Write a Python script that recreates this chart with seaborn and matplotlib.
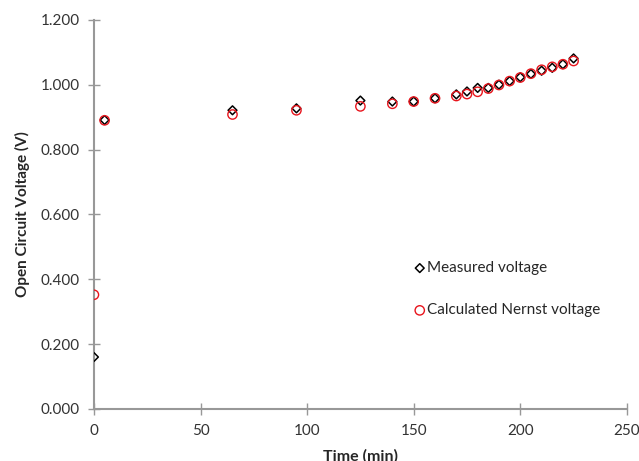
import matplotlib
matplotlib.use("Agg")
import matplotlib.pyplot as plt
import seaborn as sns
import pandas as pd

time_min = [0, 5, 65, 95, 125, 140, 150, 160, 170, 175, 180, 185, 190, 195, 200, 205, 210, 215, 220, 225]
measured = [0.160, 0.891, 0.921, 0.927, 0.951, 0.948, 0.948, 0.958, 0.970, 0.979, 0.990, 0.990, 1.000, 1.011, 1.023, 1.033, 1.043, 1.052, 1.063, 1.081]
calculated = [0.352, 0.890, 0.908, 0.921, 0.933, 0.941, 0.948, 0.958, 0.965, 0.971, 0.978, 0.988, 0.999, 1.011, 1.022, 1.034, 1.046, 1.055, 1.063, 1.073]
series_names = ["Measured voltage", "Calculated Nernst voltage"]
x_ticks = [0, 50, 100, 150, 200, 250]
y_ticks = [0.0, 0.2, 0.4, 0.6, 0.8, 1.0, 1.2]

sns.set_style("white")
plt.rcParams['font.family'] = ['Lato', 'DejaVu Sans']

fig = plt.figure(figsize=(6.39, 4.61), dpi=100)
ax = fig.add_axes([0.147, 0.113, 0.834, 0.844])

df = pd.DataFrame({"t": time_min, "m": measured, "c": calculated})
sns.scatterplot(data=df, x="t", y="m", ax=ax, marker="D", s=20,
                facecolors="none", edgecolors="black", linewidths=1.1,
                label=series_names[0], zorder=3)
sns.scatterplot(data=df, x="t", y="c", ax=ax, marker="o", s=45,
                facecolors="none", edgecolors="#e8141c", linewidths=1.0,
                label=series_names[1], zorder=4)

ax.set_xlim(0, 250)
ax.set_ylim(0, 1.2)
ax.set_xticks(x_ticks)
ax.set_yticks(y_ticks)
ax.set_yticklabels([f"{v:.3f}" for v in y_ticks])
ax.set_xticklabels([str(v) for v in x_ticks])

for s in ["top", "right"]:
    ax.spines[s].set_visible(False)
for s in ["left", "bottom"]:
    ax.spines[s].set_color("#989898")
    ax.spines[s].set_linewidth(1.5)
ax.tick_params(axis="both", direction="inout", length=8, width=1,
               color="#989898", labelsize=11, labelcolor="#333333",
               left=True, bottom=True)
ax.tick_params(axis="x", pad=7)
ax.tick_params(axis="y", pad=6)

ax.set_xlabel("Time (min)", fontsize=11.5, fontweight="bold", labelpad=8)
ax.set_ylabel("Open Circuit Voltage (V)", fontsize=11, fontweight="bold", labelpad=8)

leg = ax.legend(loc="upper left", bbox_to_anchor=(406/639, 1-255/461),
                bbox_transform=fig.transFigure, frameon=False, fontsize=11,
                labelspacing=1.85, handletextpad=0.0, handlelength=1.0,
                borderaxespad=0)

fig.savefig("out.png", dpi=100)
